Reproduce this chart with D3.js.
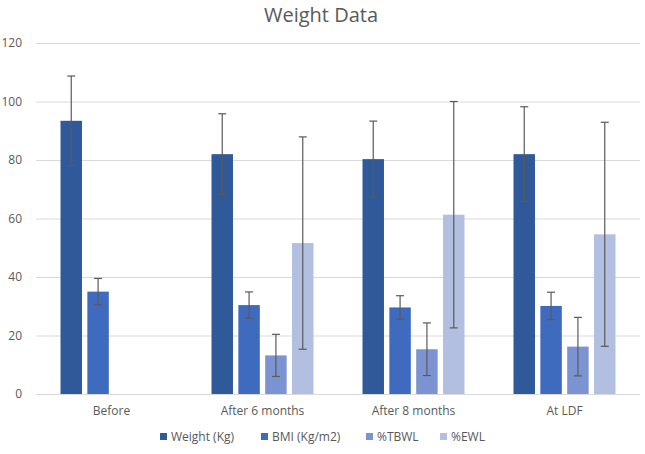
<!DOCTYPE html>
<html>
<head>
<meta charset="utf-8">
<script src="https://cdn.jsdelivr.net/npm/d3@7"></script>
<style>
  body { margin: 0; background: #fff; }
  text { font-family: "Open Sans", sans-serif; fill: #595959; }
</style>
</head>
<body>
<div class="svg-container"></div>
<script>
// chart data
const categories = ["Before", "After 6 months", "After 8 months", "At LDF"];
const seriesNames = ["Weight (Kg)", "BMI (Kg/m2)", "%TBWL", "%EWL"];
const weightValues = [93.4, 82, 80.3, 82];
const weightErrors = [15.3, 13.8, 13, 16.2];
const bmiValues = [35, 30.4, 29.6, 30.1];
const bmiErrors = [4.5, 4.5, 4, 4.7];
const tbwlValues = [null, 13.2, 15.3, 16.2];
const tbwlErrors = [null, 7.2, 9, 10];
const ewlValues = [null, 51.6, 61.3, 54.6];
const ewlErrors = [null, 36.3, 38.7, 38.3];
const yTicks = [0, 20, 40, 60, 80, 100, 120];

const colors = ["#30599a", "#3f6bbf", "#7b93d0", "#b2bfe1"];

const width = 645;
const height = 454;

const svg = d3.select('.svg-container').append('svg')
    .attr('width', width)
    .attr('height', height);

// title
svg.append('text')
    .attr('x', 321)
    .attr('y', 22)
    .attr('text-anchor', 'middle')
    .style('font-size', '20px')
    .text("Weight Data");

const xScale = d3.scaleBand()
    .domain(categories)
    .range([36, 640]);

const xInner = d3.scaleBand()
    .domain(seriesNames)
    .range([-51, 51])
    .paddingInner(0.2);

const yScale = d3.scaleLinear()
    .domain([0, 120])
    .range([394, 43]);

// gridlines
svg.append('g')
    .selectAll('line')
    .data(yTicks)
    .enter()
    .append('line')
    .attr('x1', 36)
    .attr('x2', 640)
    .attr('y1', d => yScale(d) + 0.5)
    .attr('y2', d => yScale(d) + 0.5)
    .attr('stroke', '#d9d9d9')
    .attr('stroke-width', 1);

// y axis labels
const yAxis = svg.append('g')
    .attr('transform', 'translate(30,0)')
    .call(d3.axisLeft(yScale).tickValues(yTicks).tickSize(0).tickPadding(8));
yAxis.select('.domain').remove();
yAxis.selectAll('text')
    .style('font-family', '"Open Sans", sans-serif')
    .style('font-size', '12px')
    .attr('fill', '#595959');

// x axis labels
const xAxis = svg.append('g')
    .attr('transform', 'translate(0,394)')
    .call(d3.axisBottom(xScale).tickSize(0).tickPadding(12));
xAxis.select('.domain').remove();
xAxis.selectAll('text')
    .style('font-family', '"Open Sans", sans-serif')
    .style('font-size', '12px')
    .attr('fill', '#595959');

// build rows
const valueSets = [weightValues, bmiValues, tbwlValues, ewlValues];
const errorSets = [weightErrors, bmiErrors, tbwlErrors, ewlErrors];
const rows = [];
categories.forEach((c, i) => {
    seriesNames.forEach((s, j) => {
        if (valueSets[j][i] != null) {
            rows.push({ cat: c, series: s, idx: j, value: valueSets[j][i], err: errorSets[j][i] });
        }
    });
});

const barGroups = svg.selectAll('.bar')
    .data(rows)
    .enter()
    .append('g')
    .attr('class', 'bar')
    .attr('transform', d => `translate(${xScale(d.cat) + xScale.bandwidth() / 2},0)`);

barGroups.append('rect')
    .attr('x', d => xInner(d.series))
    .attr('y', d => yScale(d.value))
    .attr('width', xInner.bandwidth())
    .attr('height', d => yScale(0) - yScale(d.value))
    .attr('fill', d => colors[d.idx]);

// error bars
const capW = 4;
barGroups.each(function (d) {
    const g = d3.select(this);
    const cx = xInner(d.series) + xInner.bandwidth() / 2;
    const top = yScale(d.value + d.err);
    const bottom = yScale(d.value - d.err);
    g.append('line')
        .attr('x1', cx).attr('x2', cx)
        .attr('y1', top).attr('y2', bottom)
        .attr('stroke', '#5a5a5a').attr('stroke-width', 1.2);
    [top, bottom].forEach(y => {
        g.append('line')
            .attr('x1', cx - capW).attr('x2', cx + capW)
            .attr('y1', y).attr('y2', y)
            .attr('stroke', '#5a5a5a').attr('stroke-width', 1.2);
    });
});

// legend
const legendX = [160, 261, 366, 440];
const legend = svg.selectAll('.legend')
    .data(seriesNames)
    .enter()
    .append('g')
    .attr('class', 'legend')
    .attr('transform', (d, i) => `translate(${legendX[i]},437)`);

legend.append('rect')
    .attr('x', 0)
    .attr('y', -4)
    .attr('width', 7)
    .attr('height', 7)
    .attr('fill', (d, i) => colors[i]);

legend.append('text')
    .attr('x', 11)
    .attr('y', 4)
    .style('font-size', '12px')
    .text(d => d);
</script>
</body>
</html>
